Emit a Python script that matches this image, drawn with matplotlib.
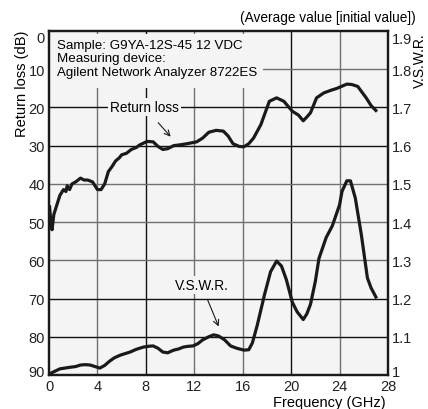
import numpy as np
import matplotlib.pyplot as plt
import matplotlib.transforms as mtransforms
from matplotlib.patches import Rectangle

plt.rcParams['font.family'] = ['Liberation Sans', 'DejaVu Sans']

# return loss curve (dB, left axis)
rl_freq = [0.05, 0.15, 0.25, 0.4, 0.6, 0.9, 1.2, 1.4, 1.5, 1.7, 1.9, 2.2, 2.6, 2.9, 3.2, 3.6,
           4.0, 4.3, 4.6, 4.9, 5.2, 5.5, 5.8, 6.0, 6.4, 6.8, 7.2, 7.5, 8.1, 8.6, 9.0, 9.4,
           9.8, 10.3, 10.8, 11.4, 12.2, 12.7, 13.2, 13.8, 14.4, 14.8, 15.2, 15.7, 16.1, 16.5,
           16.9, 17.5, 18.2, 18.8, 19.4, 20.1, 20.6, 21.0, 21.3, 21.6, 22.1, 22.7, 23.3, 23.8,
           24.6, 25.0, 25.5, 26.2, 26.6, 27.0]
rl_db = [46, 50, 52, 48, 46, 43, 41.5, 42, 40.5, 41.5, 40, 39.5, 38.5, 39, 39, 39.5,
         41.5, 41.5, 40, 36.8, 35.5, 34, 33.2, 32.4, 32, 31, 30.5, 29.8, 28.9, 29, 30.2, 31,
         30.8, 30, 29.8, 29.5, 29, 28, 26.5, 26, 26.2, 27.5, 29.5, 30.2, 30.3, 29.5,
         28, 24.5, 18.4, 17.5, 18.4, 21, 22, 23.5, 22.5, 21.4, 17.5, 16.2, 15.5, 15,
         13.9, 14, 14.5, 17.5, 19.5, 20.8]

# V.S.W.R. curve (right axis)
vs_freq = [0.05, 0.5, 0.9, 1.3, 1.7, 2.2, 2.6, 3.0, 3.4, 3.8, 4.2, 4.6, 5.0, 5.4, 5.9, 6.3,
           6.7, 7.2, 7.8, 8.2, 8.6, 9.0, 9.4, 9.8, 10.3, 10.7, 11.1, 11.5, 11.9, 12.3, 12.7,
           13.2, 13.6, 14.0, 14.5, 15.0, 15.5, 16.1, 16.5, 16.8, 17.2, 17.8, 18.3, 18.8, 19.2,
           19.6, 20.1, 20.5, 21.0, 21.3, 21.6, 22.0, 22.3, 22.9, 23.4, 24.0, 24.2, 24.6, 24.9,
           25.3, 25.8, 26.3, 26.6, 27.0]
vs_val = [1.003, 1.01, 1.016, 1.018, 1.02, 1.022, 1.026, 1.027, 1.026, 1.022, 1.018, 1.025,
          1.036, 1.045, 1.052, 1.056, 1.06, 1.067, 1.073, 1.075, 1.076, 1.07, 1.06, 1.058,
          1.065, 1.068, 1.073, 1.075, 1.076, 1.082, 1.092, 1.1, 1.105, 1.102, 1.092, 1.076,
          1.07, 1.065, 1.066, 1.084, 1.13, 1.21, 1.27, 1.298, 1.285, 1.25, 1.19, 1.165,
          1.145, 1.16, 1.185, 1.245, 1.305, 1.36, 1.39, 1.445, 1.48, 1.508, 1.508, 1.463,
          1.367, 1.254, 1.228, 1.204]

x_ticks = [0, 4, 8, 12, 16, 20, 24, 28]
rl_ticks = [0, 10, 20, 30, 40, 50, 60, 70, 80, 90]
vs_ticks = [1, 1.1, 1.2, 1.3, 1.4, 1.5, 1.6, 1.7, 1.8, 1.9]
vs_labels = ['1', '1.1', '1.2', '1.3', '1.4', '1.5', '1.6', '1.7', '1.8', '1.9']

bg = '#f4f4f4'
fig = plt.figure(figsize=(4.28, 4.10), dpi=100)
ax = fig.add_axes([0.1145, 0.0830, 0.792, 0.839])
ax.set_facecolor(bg)
ax.set_xlim(0, 28)
ax.set_ylim(90, 0)

# grid
for x in x_ticks[1:-1]:
    c = '#111111' if x in (8, 20) else '#707070'
    ax.axvline(x, color=c, lw=1.0, zorder=1)
for y in rl_ticks[1:-1]:
    c = '#111111' if y in (20, 30, 70, 80) else '#707070'
    ax.axhline(y, color=c, lw=1.0, zorder=1)

# box behind the sample text
ax.add_patch(Rectangle((0.1, 0.9), 17.6, 14.0, facecolor=bg, edgecolor='none', zorder=2))
ax.text(0.65, 2.2, 'Sample: G9YA-12S-45 12 VDC\nMeasuring device:\nAgilent Network Analyzer 8722ES',
        fontsize=9.6, va='top', ha='left', linespacing=1.12, zorder=3)

ax.plot(rl_freq, rl_db, color='#1a1a1a', lw=2.3, zorder=4, solid_joinstyle='round')

ax.set_xticks(x_ticks)
ax.set_yticks(rl_ticks)
ax.tick_params(length=0, labelsize=10.5, pad=3, colors='#222222')
for s in ax.spines.values():
    s.set_linewidth(1.6)
    s.set_color('#1a1a1a')

ax2 = ax.twinx()
ax2.set_ylim(1, 1.9)
ax2.plot(vs_freq, vs_val, color='#1a1a1a', lw=2.3, zorder=4, solid_joinstyle='round')
ax2.set_yticks(vs_ticks)
ax2.set_yticklabels(vs_labels)
ax2.tick_params(length=0, labelsize=10.5, pad=3, colors='#222222')
for s in ax2.spines.values():
    s.set_linewidth(1.6)
    s.set_color('#1a1a1a')

# nudge the end labels inward like the original
def shift(label, dy):
    label.set_transform(label.get_transform() + mtransforms.ScaledTranslation(0, dy / 72, fig.dpi_scale_trans))

lbl = ax.get_yticklabels()
shift(lbl[0], -4.0)
shift(lbl[-1], 3.0)
lbl2 = ax2.get_yticklabels()
shift(lbl2[0], 3.5)
shift(lbl2[-1], -4.5)

# annotations
ax.annotate('Return loss', xy=(10.2, 28.2), xytext=(7.9, 20), fontsize=9.8, ha='center', va='center',
            bbox=dict(boxstyle='square,pad=0.15', fc=bg, ec='none'),
            arrowprops=dict(arrowstyle='->', color='#1a1a1a', lw=0.8, shrinkA=6), zorder=5)
ax.annotate('V.S.W.R.', xy=(14.1, 78.0), xytext=(12.6, 66.5), fontsize=9.8, ha='center', va='center',
            bbox=dict(boxstyle='square,pad=0.15', fc=bg, ec='none'),
            arrowprops=dict(arrowstyle='->', color='#1a1a1a', lw=0.8, shrinkA=4), zorder=5)

fig.text(0.052, 0.925, 'Return loss (dB)', rotation=90, fontsize=10.5, ha='center', va='top')
fig.text(0.981, 0.918, 'V.S.W.R.', rotation=90, fontsize=10, ha='center', va='top')
fig.text(0.972, 0.957, '(Average value [initial value])', fontsize=9.8, ha='right', va='center')
fig.text(0.902, 0.017, 'Frequency (GHz)', fontsize=10.5, ha='right', va='center')

fig.savefig('out.png', dpi=100, facecolor='white')
